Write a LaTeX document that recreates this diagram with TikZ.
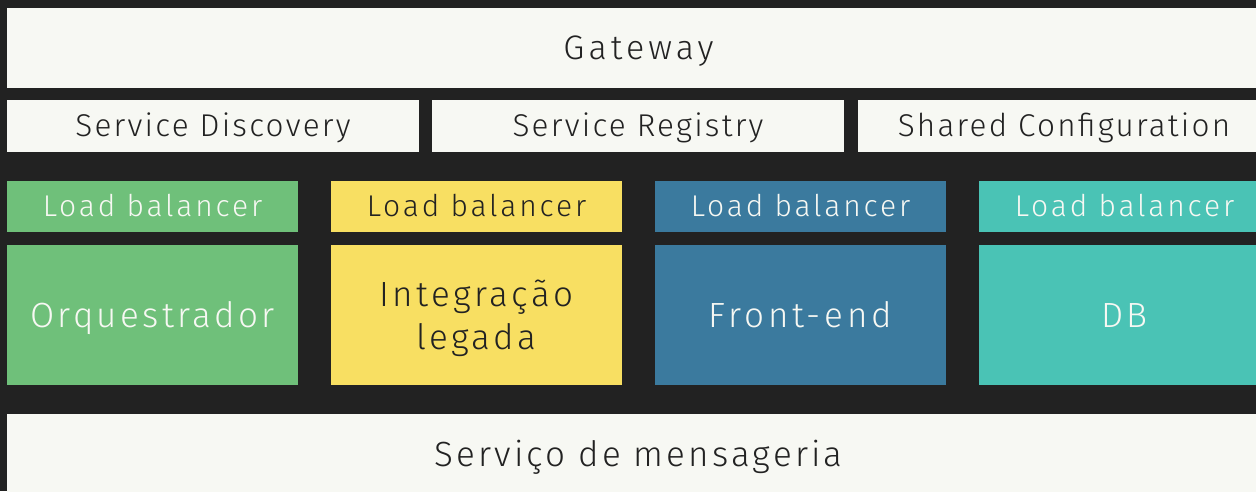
\documentclass[tikz,border=0pt]{standalone}
\usepackage{fontspec}
\setmainfont{Fira Sans Light}
\usetikzlibrary{positioning}
\definecolor{bgdark}{HTML}{222222}
\definecolor{paper}{HTML}{F7F8F3}
\definecolor{verde}{HTML}{6FC07A}
\definecolor{amarelo}{HTML}{F8DF62}
\definecolor{azul}{HTML}{3B7A9E}
\definecolor{turquesa}{HTML}{4AC3B5}
% tamanho, entrelinha, espacamento entre letras
\newcommand{\fonte}[3]{\fontsize{#1}{#2}\selectfont\addfontfeatures{LetterSpace=#3}}

\begin{document}
\begin{tikzpicture}[x=1pt,y=-1pt,
    caixa/.style={anchor=north west, inner sep=0pt, outer sep=0pt, align=center},
    barra/.style={caixa, fill=paper, text=bgdark, minimum width=412pt, minimum height=52pt, font=\fonte{31.5}{36}{7}, text height=21.7pt, text depth=0pt},
    balancer/.style={caixa, fill=#1, minimum width=291pt, minimum height=51pt, font=\fonte{30}{34}{9.5}, text height=20.7pt, text depth=0pt},
    servico/.style={caixa, fill=#1, minimum width=291pt, minimum height=140pt, font=\fonte{35}{43}{9.5}, text height=24pt, text depth=0pt}]
    \useasboundingbox[fill=bgdark] (0,0) rectangle (1256,491);

    % camadas de cima
    \node[caixa, fill=paper, text=bgdark, minimum width=1263pt, minimum height=80pt, font=\fonte{34}{40}{12}, text height=23.4pt, text depth=0pt] (gateway) at (7,8) {Gateway};
    \node[barra] (discovery) at (7,100) {Service Discovery};
    \node[barra] (registry) at (432,100) {Service Registry};
    \node[barra] (config) at (858,100) {Shared Configuration};

    % load balancers
    \node[balancer=verde, text=paper] (lbA) at (7,181) {Load balancer};
    \node[balancer=amarelo, text=bgdark] (lbB) at (331,181) {Load balancer};
    \node[balancer=azul, text=paper] (lbC) at (655,181) {Load balancer};
    \node[balancer=turquesa, text=paper] (lbD) at (979,181) {Load balancer};

    % servicos
    \node[servico=verde, text=paper] (orq) at (7,245) {Orquestrador};
    \node[servico=amarelo, text=bgdark, text height=68pt] (legado) at (331,245) {Integração\\legada};
    \node[servico=azul, text=paper, font=\fonte{35}{43}{11}] (front) at (655,245) {Front-end};
    \node[servico=turquesa, text=paper] (db) at (979,245) {DB};

    % mensageria
    \node[caixa, fill=paper, text=bgdark, minimum width=1263pt, minimum height=81.4pt, font=\fonte{35}{40}{9}, text height=24pt, text depth=0pt] (msg) at (7,414) {Serviço de mensageria};
\end{tikzpicture}
\end{document}
